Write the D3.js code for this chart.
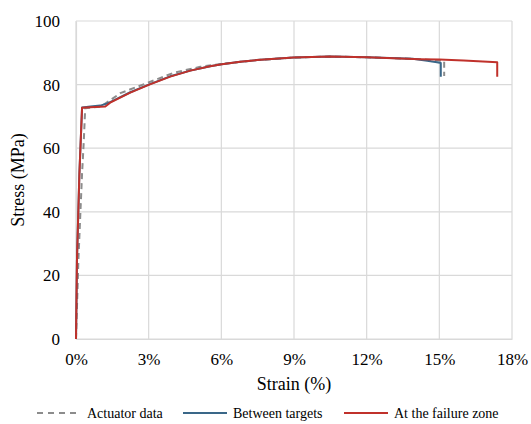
<!DOCTYPE html>
<html>
<head>
<meta charset="utf-8">
<script src="https://cdn.jsdelivr.net/npm/d3@7"></script>
<style>
  body { margin: 0; background: white; }
</style>
</head>
<body>
<div id="chart"></div>
<script>
// values (strain in %, stress in MPa)
var actuator_strain = [0, 0.1, 0.25, 0.32, 0.38, 1.0, 1.4, 1.83, 3.07, 4.03, 5.13, 6.02, 7.47, 8.98, 10.49, 12.0, 14.2, 15.2, 15.2];
var actuator_stress = [0, 25, 52, 62, 72.6, 73.0, 75.0, 77.3, 80.9, 83.7, 85.6, 86.5, 87.7, 88.5, 88.8, 88.6, 88.0, 87.4, 82.7];

var between_strain = [0, 0.04, 0.14, 0.25, 0.6, 1.0, 1.3, 1.6, 2.24, 3.0, 3.89, 4.72, 5.54, 6.02, 6.78, 7.47, 8.98, 10.49, 12.0, 13.9, 14.5, 14.9, 15.06, 15.06];
var between_stress = [0, 25, 52, 72.8, 73.1, 73.4, 74.1, 75.2, 77.6, 80.0, 82.6, 84.4, 85.8, 86.4, 87.2, 87.7, 88.5, 88.8, 88.6, 88.1, 87.5, 87.0, 86.8, 82.5];

var failure_strain = [0, 0.04, 0.14, 0.25, 0.59, 1.21, 1.41, 2.24, 3.0, 3.89, 4.72, 5.54, 6.02, 6.78, 7.47, 8.98, 10.49, 12.0, 14.2, 15.0, 16.0, 17.0, 17.39, 17.39];
var failure_stress = [0, 25, 52, 72.7, 72.9, 73.1, 74.3, 77.5, 79.9, 82.5, 84.4, 85.8, 86.4, 87.2, 87.7, 88.5, 88.8, 88.6, 88.0, 87.9, 87.6, 87.2, 87.0, 82.5];

var x_ticks = [0, 3, 6, 9, 12, 15, 18];
var y_ticks = [0, 20, 40, 60, 80, 100];

var series_names = ["Actuator data", "Between targets", "At the failure zone"];
var series_colors = ["#8c8c8c", "#3a6788", "#c0312b"];

var W = 531, H = 424;
var margin = { top: 21, right: 19, bottom: 85, left: 76 };
var width = W - margin.left - margin.right,
    height = H - margin.top - margin.bottom;
var serif = "Liberation Serif";

var svg = d3.select("#chart")
    .append("svg")
    .attr("width", W)
    .attr("height", H);

var g = svg.append("g")
    .attr("transform", "translate(" + margin.left + "," + margin.top + ")");

var x = d3.scaleLinear().domain([0, 18]).range([0, width]);
var y = d3.scaleLinear().domain([0, 100]).range([height, 0]);

// grid
g.selectAll(".vgrid")
    .data(x_ticks)
    .enter()
    .append("line")
    .attr("x1", function (d) { return x(d) })
    .attr("x2", function (d) { return x(d) })
    .attr("y1", 0)
    .attr("y2", height)
    .style("stroke", "#d9d9d9")
    .style("stroke-width", 1.2);

g.selectAll(".hgrid")
    .data(y_ticks)
    .enter()
    .append("line")
    .attr("x1", 0)
    .attr("x2", width)
    .attr("y1", function (d) { return y(d) })
    .attr("y2", function (d) { return y(d) })
    .style("stroke", "#d9d9d9")
    .style("stroke-width", 1.2);

// axes, labels only
var xAxis = g.append("g")
    .attr("transform", "translate(0," + height + ")")
    .call(d3.axisBottom(x).tickValues(x_ticks).tickSize(0).tickPadding(14)
        .tickFormat(function (d) { return d + "%" }));
var yAxis = g.append("g")
    .call(d3.axisLeft(y).tickValues(y_ticks).tickSize(0).tickPadding(16));

[xAxis, yAxis].forEach(function (a) {
    a.attr("font-family", null).attr("font-size", null);
    a.select(".domain").style("stroke", "#d9d9d9").style("stroke-width", 1.2);
    a.selectAll("text")
        .style("font-family", serif)
        .style("font-size", "17px")
        .style("fill", "#000");
});

// curves
var line = d3.line()
    .x(function (d) { return x(d[0]) })
    .y(function (d) { return y(d[1]) });

var curves = [
    d3.zip(actuator_strain, actuator_stress),
    d3.zip(between_strain, between_stress),
    d3.zip(failure_strain, failure_stress)
];

g.selectAll(".curve")
    .data(curves)
    .enter()
    .append("path")
    .attr("d", line)
    .style("fill", "none")
    .style("stroke", function (d, i) { return series_colors[i] })
    .style("stroke-width", 2)
    .style("stroke-linejoin", "round")
    .style("stroke-dasharray", function (d, i) { return i == 0 ? "6,4" : null });

// axis titles
svg.append("text")
    .attr("x", margin.left + width / 2)
    .attr("y", 390)
    .attr("text-anchor", "middle")
    .style("font-family", serif)
    .style("font-size", "18px")
    .text("Strain (%)");

svg.append("text")
    .attr("transform", "translate(24," + (margin.top + height / 2) + ") rotate(-90)")
    .attr("text-anchor", "middle")
    .style("font-family", serif)
    .style("font-size", "18px")
    .text("Stress (MPa)");

// legend
var legend_x = [37, 183, 344];
var leg = svg.selectAll(".legend")
    .data(series_names)
    .enter()
    .append("g")
    .attr("transform", function (d, i) { return "translate(" + legend_x[i] + ",413)" });

leg.append("line")
    .attr("x1", 0)
    .attr("x2", 44)
    .style("stroke", function (d, i) { return series_colors[i] })
    .style("stroke-width", 2)
    .style("stroke-dasharray", function (d, i) { return i == 0 ? "6,5" : null });

leg.append("text")
    .attr("x", 50)
    .attr("y", 5)
    .style("font-family", serif)
    .style("font-size", "14px")
    .text(function (d) { return d });
</script>
</body>
</html>
